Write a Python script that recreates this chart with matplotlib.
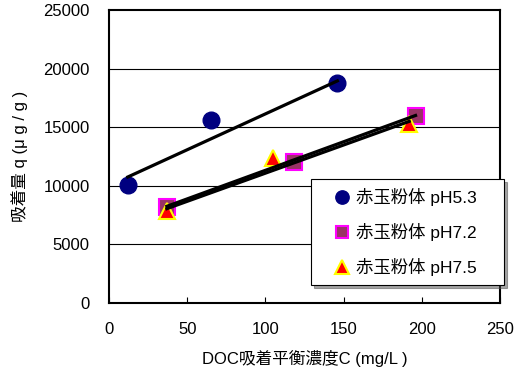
import matplotlib.pyplot as plt

plt.rcParams['font.family'] = ['Liberation Sans', 'Noto Sans CJK JP', 'DejaVu Sans']

# データ
x_ph53 = [12, 65, 146]
y_ph53 = [10100, 15650, 18800]
x_ph72 = [37, 118, 196]
y_ph72 = [8150, 12050, 15950]
x_ph75 = [37, 105, 192]
y_ph75 = [7850, 12400, 15250]
labels = ['赤玉粉体 pH5.3', '赤玉粉体 pH7.2', '赤玉粉体 pH7.5']

# 近似直線
trend53_x = [12, 146]
trend53_y = [10750, 18950]
trend72_x = [37, 196]
trend72_y = [8250, 16000]
trend75_x = [37, 192]
trend75_y = [8050, 15500]

fig = plt.figure(figsize=(5.16, 3.70), dpi=100)
ax = fig.add_axes([109/516, 1 - 303/370, 391/516, 293/370])

for y in [5000, 10000, 15000, 20000]:
    ax.axhline(y, color='black', lw=0.8, zorder=0)

ax.plot(x_ph53, y_ph53, 'o', color='#000080', ms=12, label=labels[0], zorder=3)
ax.plot(x_ph72, y_ph72, 's', mfc='#993366', mec='#FF00FF', mew=1.5, ms=11,
        label=labels[1], zorder=3)
ax.plot(x_ph75, y_ph75, '^', mfc='#FF0000', mec='#FFFF00', mew=1.5, ms=12,
        label=labels[2], zorder=3)

ax.plot(trend53_x, trend53_y, color='black', lw=2.3, zorder=4)
ax.plot(trend72_x, trend72_y, color='black', lw=2.3, zorder=4)
ax.plot(trend75_x, trend75_y, color='black', lw=2.3, zorder=4)

ax.set_xlim(0, 250)
ax.set_ylim(0, 25000)
ax.set_xticks(range(0, 251, 50))
ax.set_yticks(range(0, 25001, 5000))
ax.tick_params(axis='x', direction='in', length=4, labelsize=12, pad=14)
ax.tick_params(axis='y', length=0, labelsize=12, pad=14)
for s in ax.spines.values():
    s.set_linewidth(1.5)

ax.set_xlabel('DOC吸着平衡濃度C (mg/L )', fontsize=12, labelpad=9)
ax.set_ylabel('吸着量 q (μ g / g )', fontsize=12, labelpad=11)

leg = ax.legend(loc='upper left', bbox_to_anchor=(0.517, 0.06, 0.494, 0.363),
                mode='expand', fontsize=12.5, frameon=True, fancybox=False,
                shadow=True, borderpad=0.5, handletextpad=-0.5, handlelength=2.6,
                labelspacing=1.0, borderaxespad=0, markerscale=0.8)
leg.get_frame().set_edgecolor('black')
leg.get_frame().set_linewidth(0.8)

fig.savefig('out.png', dpi=100)
